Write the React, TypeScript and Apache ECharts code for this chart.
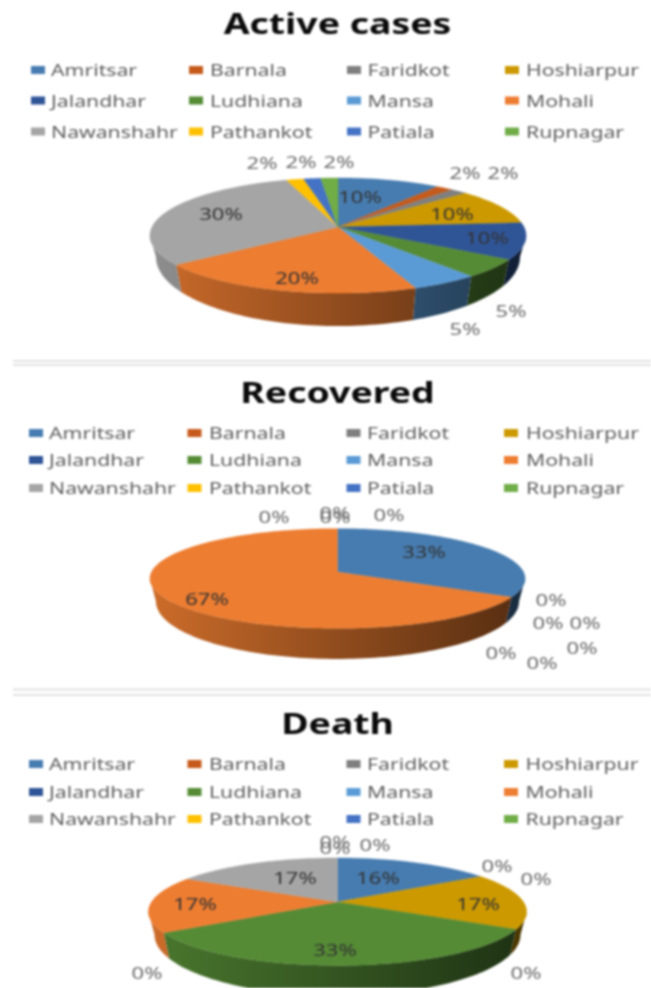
import React, { useEffect, useRef } from "react";
import * as echarts from "echarts";

const categories = ["Amritsar","Barnala","Faridkot","Hoshiarpur","Jalandhar","Ludhiana","Mansa","Mohali","Nawanshahr","Pathankot","Patiala","Rupnagar"];
const activeCases = [10.2,1.7,1.7,10.2,10.2,5.1,5.1,20.4,30.4,1.7,1.7,1.7];
const recovered = [33,0,0,0,0,0,0,67,0,0,0,0];
const death = [16,0,0,17,0,33,0,17,17,0,0,0];
const colors = ["#477cb0","#c55a1b","#7f7f7f","#cc9900","#2f5597","#558b35","#5b9bd5","#ed7d31","#a5a5a5","#ffc000","#4472c4","#70ad47"];

const activeLabelAt = [[360,197],[465,173],[503,173],[452,214],[487,238],[511,311],[465,329],[297,278],[221,214],[262,163],[301,162],[339,162]];
const recoveredLabelAt = [[424,552],[551,600],[548,623],[585,623],[582,648],[542,663],[501,653],[207,599],[274,517],[335,513],[335,517],[389,515]];
const deathLabelAt = [[378,878],[497,866],[536,879],[478,904],[526,973],[335,950],[147,973],[195,904],[295,878],[335,842],[335,848],[375,845]];

const pies = [
  { title: "Active cases", titleY: 23, values: activeCases, labels: activeLabelAt, cx: 338, cy: 227, R: 186, a: 56.3, k: 0.148, cyb: 246.8, ab: 67.5, Rb: 180, legendYs: [70,100.5,131.5], tx: [51,210,367.5,526], swx: [31,189,347,505] },
  { title: "Recovered", titleY: 392, values: recovered, labels: recoveredLabelAt, cx: 337.5, cy: 572, R: 186, a: 49, k: 0.13, cyb: 594, ab: 56.5, Rb: 180, legendYs: [433,460,488], tx: [49,209,367,526], swx: [29,187.5,346.5,504] },
  { title: "Death", titleY: 723, values: death, labels: deathLabelAt, cx: 337.5, cy: 902, R: 186, a: 52, k: 0.18, cyb: 923.7, ab: 59, Rb: 180, legendYs: [764,792,819], tx: [49,209,367,525.5], swx: [29,187.5,346.5,504] },
];

function shade(hex: string, f: number) {
  const n = parseInt(hex.slice(1), 16);
  const c = [(n >> 16) & 255, (n >> 8) & 255, n & 255].map((v) => Math.round(v * f));
  return `rgb(${c[0]},${c[1]},${c[2]})`;
}

function project(p: any, deg: number, bottom = false): [number, number] {
  const t = (deg * Math.PI) / 180;
  const w = 1 + p.k * Math.cos(t);
  const R = bottom ? p.Rb : p.R, a = bottom ? p.ab : p.a, cy = bottom ? p.cyb : p.cy;
  return [p.cx + (R * Math.sin(t)) / w, cy - (a * Math.cos(t)) / w];
}

function arc(p: any, from: number, to: number, bottom = false) {
  const pts: [number, number][] = [];
  const n = Math.max(2, Math.ceil(Math.abs(to - from) / 1.5));
  for (let i = 0; i <= n; i++) pts.push(project(p, from + ((to - from) * i) / n, bottom));
  return pts;
}

function range(p: any, i: number) {
  const total = p.values.reduce((s: number, v: number) => s + v, 0);
  let c = 0;
  for (let j = 0; j < i; j++) c += p.values[j];
  return [(c / total) * 360, ((c + p.values[i]) / total) * 360];
}

function topSeries(p: any) {
  return {
    type: "custom", coordinateSystem: "none", silent: true, z: 3,
    data: p.values.map((v: number) => [v]),
    renderItem: (params: any, api: any) => {
      if (!api.value(0)) return null;
      const [a, b] = range(p, params.dataIndex);
      const col = colors[params.dataIndex];
      return { type: "polygon", shape: { points: [[p.cx, p.cy], ...arc(p, a, b)] }, style: { fill: col, stroke: col, lineWidth: 0.4 } };
    },
  };
}

function sideSeries(p: any) {
  const edge = (Math.acos(-p.k) * 180) / Math.PI;
  return {
    type: "custom", coordinateSystem: "none", silent: true, z: 2,
    data: p.values.map((v: number) => [v]),
    renderItem: (params: any, api: any) => {
      if (!api.value(0)) return null;
      const [a, b] = range(p, params.dataIndex);
      const s = Math.max(a, edge), e = Math.min(b, 360 - edge);
      if (e <= s) return null;
      const upper = arc(p, s, e);
      const lower = arc(p, e, s, true);
      const fx = (x: number) => 0.86 - (0.5 * (x - (p.cx - p.R))) / (2 * p.R);
      const xs = upper.map((q) => q[0]);
      const x0 = Math.min(...xs), x1 = Math.max(...xs);
      const col = colors[params.dataIndex];
      return {
        type: "polygon",
        shape: { points: [...upper, ...lower] },
        style: { fill: new echarts.graphic.LinearGradient(0, 0, 1, 0, [
          { offset: 0, color: shade(col, fx(x0)) },
          { offset: 1, color: shade(col, fx(x1)) },
        ]) },
      };
    },
  };
}

function labelSeries(p: any) {
  return {
    type: "custom", coordinateSystem: "none", silent: true, z: 4,
    data: p.values.map((v: number) => [v]),
    renderItem: (params: any, api: any) => {
      const [x, y] = p.labels[params.dataIndex];
      const inside = api.value(0) > 3;
      return {
        type: "text", x, y, scaleX: 1.42,
        style: { text: `${Math.round(api.value(0))}%`, textAlign: "center", verticalAlign: "middle", textVerticalAlign: "middle",
          font: '15.5px "Noto Sans"', fill: inside && params.dataIndex !== 5 && params.dataIndex !== 6 || (inside && p.values !== activeCases) ? "#333333" : "#6a6a6a" },
      };
    },
  };
}

function legendAndTitles() {
  const els: any[] = [];
  pies.forEach((p) => {
    els.push({ type: "text", x: 337.5, y: p.titleY, scaleX: 1.29,
      style: { text: p.title, textAlign: "center", verticalAlign: "middle", font: 'bold 29px "Noto Sans"', fill: "#0a0a0a" } });
    categories.forEach((c, i) => {
      const col = i % 4, row = Math.floor(i / 4), y = p.legendYs[row];
      els.push({ type: "rect", shape: { x: p.swx[col], y: y - 4, width: 14, height: 8 }, style: { fill: colors[i] } });
      els.push({ type: "text", x: p.tx[col], y, scaleX: 1.37,
        style: { text: c, textAlign: "left", verticalAlign: "middle", font: '15.5px "Noto Sans"', fill: "#5f5f5f" } });
    });
  });
  [361, 365, 689.5, 695].forEach((y) => {
    els.push({ type: "line", shape: { x1: 13, y1: y, x2: 651, y2: y }, style: { stroke: "#e2e2e2", lineWidth: 2 } });
  });
  return els;
}

export default function App() {
  const ref = useRef<HTMLDivElement>(null);
  useEffect(() => {
    document.body.style.margin = "0";
    document.body.style.overflow = "hidden";
    const chart = echarts.init(ref.current!, null, { renderer: "svg" });
    chart.setOption({
      animation: false,
      backgroundColor: "#ffffff",
      graphic: { elements: legendAndTitles() },
      series: pies.flatMap((p) => [sideSeries(p), topSeries(p), labelSeries(p)]),
    });
    return () => chart.dispose();
  }, []);
  return <div ref={ref} style={{ width: 651, height: 988, filter: "blur(0.8px)" }} />;
}
